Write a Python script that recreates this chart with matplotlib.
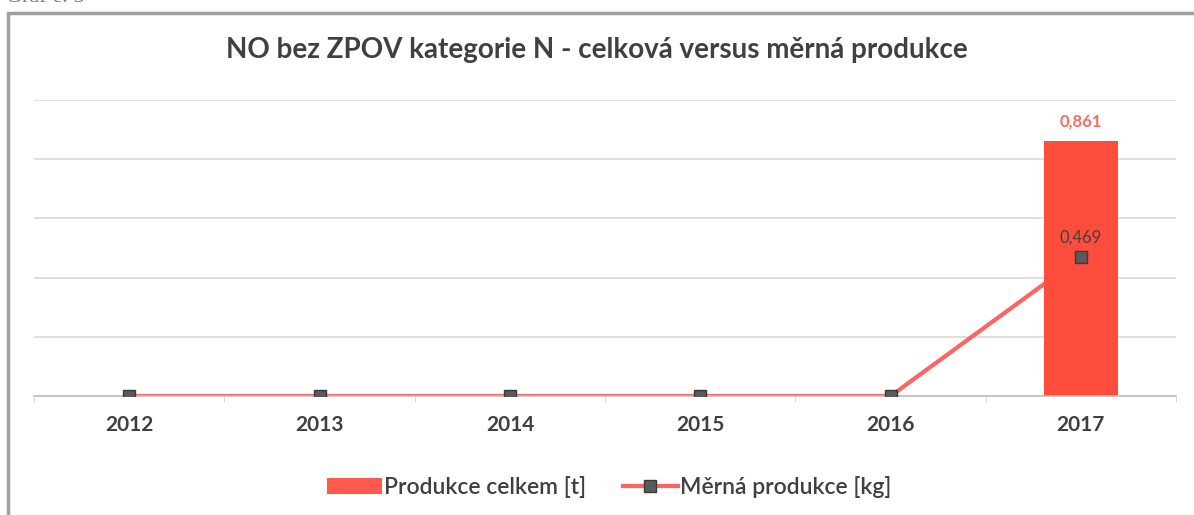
import matplotlib.pyplot as plt
import numpy as np
from matplotlib.lines import Line2D
from matplotlib.patches import Patch

years = ['2012', '2013', '2014', '2015', '2016', '2017']
produkce_celkem = [0, 0, 0, 0, 0, 0.861]
merna_produkce = [0, 0, 0, 0, 0, 0.469]

plt.rcParams['font.family'] = ['Lato', 'DejaVu Sans']

fig = plt.figure(figsize=(11.94, 5.15), dpi=100)
ax = fig.add_axes([0.0285, 0.231, 0.9565, 0.575])

x = np.arange(len(years))
bar_color = '#FF4D3D'
line_color = '#FF6464'
ax.bar(x, produkce_celkem, width=0.39, color=bar_color, zorder=2)
ax.plot(x, merna_produkce, color=line_color, lw=3, zorder=1.5, solid_capstyle='butt')
ax.plot(x, merna_produkce, ls='none', marker='s', ms=9, mfc='#5A5A5A', mec='#3A3A3A', zorder=3)

for xi, v in zip(x, produkce_celkem):
    if v > 0:
        ax.text(xi, v + 0.04, f'{v:.3f}'.replace('.', ','), ha='center', va='bottom',
                color='#FF6B5E', fontsize=12, fontweight='bold')
for xi, v in zip(x, merna_produkce):
    if v > 0:
        ax.text(xi, v + 0.04, f'{v:.3f}'.replace('.', ','), ha='center', va='bottom',
                color='#404040', fontsize=12)

ax.set_xlim(-0.5, len(years) - 0.5)
ax.set_ylim(0, 1.0)
ax.set_yticks(np.arange(0, 1.01, 0.2))
ax.yaxis.grid(True, color='#D9D9D9', lw=1.2)
ax.set_axisbelow(True)
ax.tick_params(axis='y', left=False, labelleft=False)
ax.set_xticks(x)
ax.set_xticklabels(years, fontsize=15, color='#404040', fontweight='bold')
ax.set_xticks(np.arange(-0.5, len(years), 1), minor=True)
ax.tick_params(axis='x', which='major', length=0, pad=14)
ax.tick_params(axis='x', which='minor', length=4, color='#D0D0D0')
for s in ['top', 'right', 'left']:
    ax.spines[s].set_visible(False)
ax.spines['bottom'].set_color('#BFBFBF')
ax.spines['bottom'].set_linewidth(1.2)

fig.text(0.5, 0.903, 'NO bez ZPOV kategorie N - celková versus měrná produkce',
         ha='center', va='center', fontsize=20, fontweight='bold', color='#404040')

handles = [Patch(facecolor='#FF5A4E', edgecolor='none'),
           Line2D([0], [0], color=line_color, lw=3, marker='s', ms=9,
                  mfc='#5A5A5A', mec='#3A3A3A')]
fig.legend(handles, ['Produkce celkem [t]', 'Měrná produkce [kg]'],
           loc='center', bbox_to_anchor=(0.51, 0.055), ncol=2, frameon=False,
           prop={'size': 16.5, 'weight': 'semibold'}, labelcolor='#404040',
           handlelength=2.4, handletextpad=0.1, columnspacing=1.6)

# outer chart frame
fig.add_artist(plt.Rectangle((0.007, -0.01), 1.0, 0.985, transform=fig.transFigure,
                             fill=False, edgecolor='#A0A0A0', lw=2.5))
fig.text(0.005, 1.005, 'Graf č. 5', ha='left', va='center', fontsize=16,
         color='#808080', family=['Liberation Serif'])

fig.savefig('out.png', dpi=100)
